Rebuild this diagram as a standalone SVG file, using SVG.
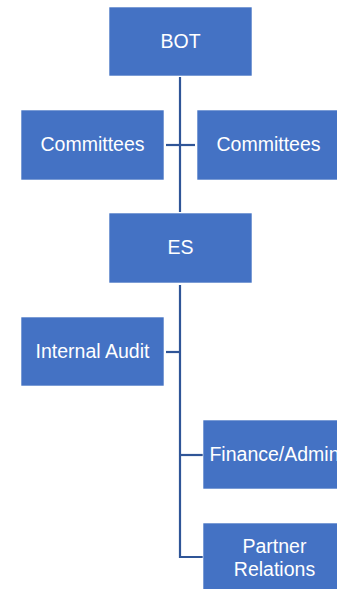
<svg xmlns="http://www.w3.org/2000/svg" width="337" height="589" viewBox="0 0 337 589">
<style>
.box{fill:#4472C4;stroke:#ffffff;stroke-width:0.6}
.lbl{fill:#ffffff;font-family:"Liberation Sans",Arial,sans-serif;font-size:19.5px;text-anchor:middle}
.con{stroke:#2F5597;stroke-width:2.2;fill:none}
</style>
<rect width="337" height="589" fill="#ffffff"/>
<g id="connectors">
<line class="con" x1="180" y1="77" x2="180" y2="212"/>
<line class="con" x1="166" y1="145" x2="195" y2="145"/>
<polyline class="con" points="180,285 180,557 203,557"/>
<line class="con" x1="166" y1="352" x2="180" y2="352"/>
<line class="con" x1="180" y1="455" x2="203" y2="455"/>
</g>
<g id="bot"><rect class="box" x="109" y="7" width="143" height="69"/><text class="lbl" x="180.5" y="48">BOT</text></g>
<g id="committees-left"><rect class="box" x="21" y="110" width="143" height="70"/><text class="lbl" x="92.5" y="151">Committees</text></g>
<g id="committees-right"><rect class="box" x="197" y="110" width="143" height="70"/><text class="lbl" x="268.5" y="151">Committees</text></g>
<g id="es"><rect class="box" x="109" y="213" width="143" height="70"/><text class="lbl" x="180.5" y="254">ES</text></g>
<g id="internal-audit"><rect class="box" x="21" y="317" width="143" height="69"/><text class="lbl" x="92.5" y="358">Internal Audit</text></g>
<g id="finance-admin"><rect class="box" x="203" y="420" width="143" height="69"/><text class="lbl" x="274.5" y="461">Finance/Admin</text></g>
<g id="partner-relations"><rect class="box" x="203" y="523" width="143" height="69"/><text class="lbl" x="274.5" y="553">Partner</text><text class="lbl" x="274.5" y="576">Relations</text></g>
</svg>
